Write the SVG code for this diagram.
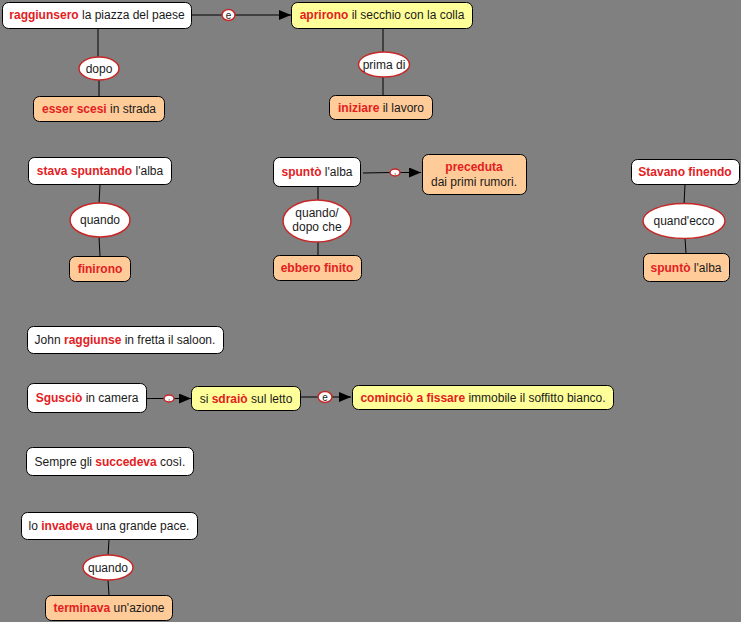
<svg xmlns="http://www.w3.org/2000/svg" width="741" height="622" viewBox="0 0 741 622">
<defs>
<marker id="arr" markerWidth="12" markerHeight="10" refX="12" refY="5" orient="auto" markerUnits="userSpaceOnUse">
<path d="M0,0 L12,5 L0,10 Z" fill="#000"/>
</marker>
<style>
text{font-family:"Liberation Sans",Arial,sans-serif;font-size:12px;fill:#1a1a1a;text-anchor:middle}
.r{fill:#e3201e;font-weight:bold}
.w{fill:#fff;stroke:#000;stroke-width:1}
.y{fill:#ffff99;stroke:#000;stroke-width:1}
.o{fill:#ffcc99;stroke:#000;stroke-width:1}
.l{fill:#fff;stroke:#c62828;stroke-width:1.5}
.c{stroke:#000;stroke-width:1;fill:none}
.s{font-size:10px}
</style>
</defs>
<rect width="741" height="622" fill="#808080"/>
<g id="connectors">
<line class="c" x1="192" y1="15" x2="222" y2="15"/>
<line class="c" x1="235" y1="15" x2="291" y2="15" marker-end="url(#arr)"/>
<line class="c" x1="98" y1="29" x2="98" y2="57"/>
<line class="c" x1="99" y1="80" x2="99" y2="96"/>
<line class="c" x1="383" y1="29" x2="383" y2="52"/>
<line class="c" x1="383" y1="77" x2="383" y2="95"/>
<line class="c" x1="100" y1="185" x2="99" y2="203"/>
<line class="c" x1="99" y1="237" x2="100" y2="256"/>
<line class="c" x1="363" y1="173" x2="390" y2="172.5"/>
<line class="c" x1="400" y1="172.5" x2="421" y2="172.5" marker-end="url(#arr)"/>
<line class="c" x1="318" y1="187" x2="318" y2="200"/>
<line class="c" x1="318" y1="242" x2="318" y2="255"/>
<line class="c" x1="685" y1="185" x2="684" y2="204"/>
<line class="c" x1="685" y1="238" x2="686" y2="253"/>
<line class="c" x1="147" y1="398.5" x2="164" y2="398.5"/>
<line class="c" x1="174" y1="398.5" x2="191" y2="398.5" marker-end="url(#arr)"/>
<line class="c" x1="301" y1="397" x2="318" y2="397"/>
<line class="c" x1="332" y1="397" x2="351" y2="397" marker-end="url(#arr)"/>
<line class="c" x1="109" y1="540" x2="108" y2="555"/>
<line class="c" x1="108" y1="580" x2="109" y2="595"/>
</g>
<g id="lbl-e1"><ellipse class="l" cx="228.5" cy="15" rx="6.5" ry="5.5"/><text class="s" x="228.5" y="18.5">e</text></g>
<g id="lbl-dopo"><ellipse class="l" cx="99" cy="68.5" rx="20" ry="11.5"/><text x="99" y="73">dopo</text></g>
<g id="lbl-prima"><ellipse class="l" cx="384" cy="64.5" rx="25.5" ry="12.5"/><text x="384" y="69">prima di</text></g>
<g id="lbl-quando1"><ellipse class="l" cx="100" cy="220" rx="30" ry="17"/><text x="100" y="224">quando</text></g>
<g id="lbl-comma1"><ellipse class="l" cx="395" cy="172.5" rx="5" ry="3.5"/><text x="395" y="174" style="font-size:8px">,</text></g>
<g id="lbl-quando2"><ellipse class="l" cx="317" cy="221" rx="34" ry="21"/><text x="317" y="217">quando/</text><text x="317" y="231">dopo che</text></g>
<g id="lbl-quandecco"><ellipse class="l" cx="684" cy="221" rx="41" ry="17.5"/><text x="684" y="225">quand'ecco</text></g>
<g id="lbl-comma2"><ellipse class="l" cx="169" cy="398.5" rx="5" ry="3.5"/><text x="169" y="400" style="font-size:8px">,</text></g>
<g id="lbl-e2"><ellipse class="l" cx="325" cy="397" rx="7" ry="5.5"/><text class="s" x="325" y="400.5">e</text></g>
<g id="lbl-quando3"><ellipse class="l" cx="108" cy="567.5" rx="25" ry="12.5"/><text x="108" y="572">quando</text></g>

<g id="n-raggiunsero"><rect class="w" x="2.5" y="2.5" width="189" height="26" rx="6"/><text x="97" y="19"><tspan class="r">raggiunsero</tspan> la piazza del paese</text></g>
<g id="n-aprirono"><rect class="y" x="291.5" y="2.5" width="181" height="26" rx="6"/><text x="382" y="19"><tspan class="r">aprirono</tspan> il secchio con la colla</text></g>
<g id="n-esser"><rect class="o" x="33.5" y="96.5" width="131" height="25" rx="6"/><text x="99" y="113"><tspan class="r">esser scesi</tspan> in strada</text></g>
<g id="n-iniziare"><rect class="o" x="329.5" y="95.5" width="103" height="24" rx="6"/><text x="381" y="112"><tspan class="r">iniziare</tspan> il lavoro</text></g>
<g id="n-stava"><rect class="w" x="28.5" y="157.5" width="143" height="27" rx="6"/><text x="100" y="175"><tspan class="r">stava spuntando</tspan> l'alba</text></g>
<g id="n-finirono"><rect class="o" x="69.5" y="256.5" width="61" height="25" rx="6"/><text x="100" y="273"><tspan class="r">finirono</tspan></text></g>
<g id="n-spunto1"><rect class="w" x="273.5" y="157.5" width="87" height="29" rx="6"/><text x="317" y="176"><tspan class="r">spuntò</tspan> l'alba</text></g>
<g id="n-preceduta"><rect class="o" x="422.5" y="154.5" width="104" height="40" rx="6"/><text x="474" y="171"><tspan class="r">preceduta</tspan></text><text x="474" y="186">dai primi rumori.</text></g>
<g id="n-ebbero"><rect class="o" x="273.5" y="255.5" width="88" height="25" rx="6"/><text x="317" y="272"><tspan class="r">ebbero finito</tspan></text></g>
<g id="n-stavano"><rect class="w" x="631.5" y="159.5" width="108" height="25" rx="6"/><text x="685" y="176"><tspan class="r">Stavano finendo</tspan></text></g>
<g id="n-spunto2"><rect class="o" x="643.5" y="253.5" width="86" height="28" rx="6"/><text x="686" y="272"><tspan class="r">spuntò</tspan> l'alba</text></g>
<g id="n-john"><rect class="w" x="27.5" y="326.5" width="196" height="27" rx="6"/><text x="125" y="344">John <tspan class="r">raggiunse</tspan> in fretta il saloon.</text></g>
<g id="n-sguscio"><rect class="w" x="27.5" y="383.5" width="119" height="29" rx="6"/><text x="87" y="402"><tspan class="r">Sgusciò</tspan> in camera</text></g>
<g id="n-sdraio"><rect class="y" x="191.5" y="386.5" width="109" height="24" rx="6"/><text x="246" y="403">si <tspan class="r">sdraiò</tspan> sul letto</text></g>
<g id="n-comincio"><rect class="y" x="352.5" y="385.5" width="261" height="24" rx="6"/><text x="483" y="402"><tspan class="r">cominciò a fissare</tspan> immobile il soffitto bianco.</text></g>
<g id="n-sempre"><rect class="w" x="26.5" y="447.5" width="167" height="28" rx="6"/><text x="110" y="466">Sempre gli <tspan class="r">succedeva</tspan> così.</text></g>
<g id="n-invadeva"><rect class="w" x="21.5" y="512.5" width="176" height="27" rx="6"/><text x="109" y="530">lo <tspan class="r">invadeva</tspan> una grande pace.</text></g>
<g id="n-terminava"><rect class="o" x="45.5" y="595.5" width="127" height="25" rx="6"/><text x="109" y="612"><tspan class="r">terminava</tspan> un'azione</text></g>
</svg>
